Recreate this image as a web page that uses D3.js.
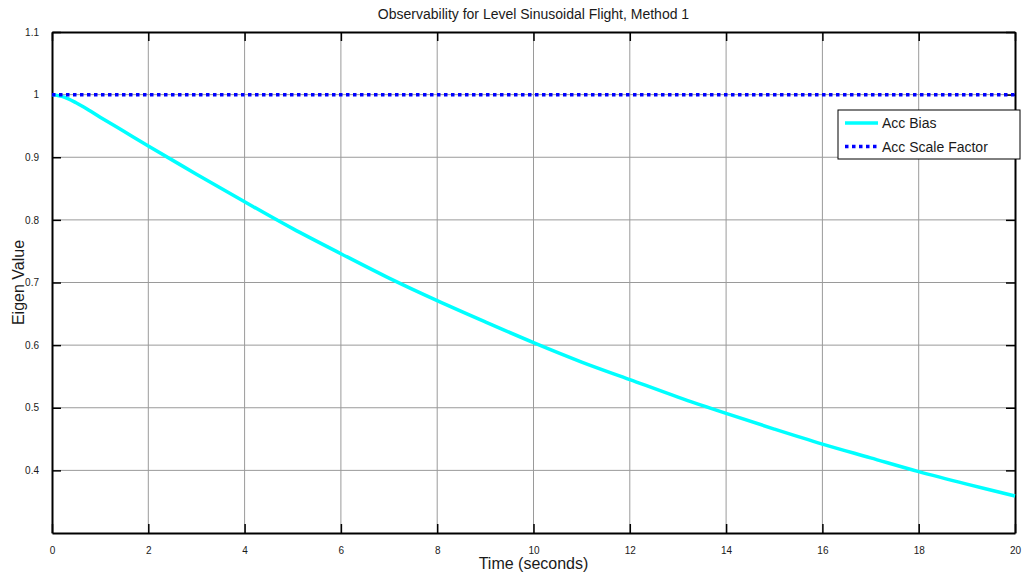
<!DOCTYPE html>
<html>
<head>
<meta charset="utf-8">
<script src="https://cdn.jsdelivr.net/npm/d3@7"></script>
<style>
  body { margin: 0; background: #fff; }
  text { font-family: "Liberation Sans", Arial, sans-serif; fill: #1a1a1a; }
</style>
</head>
<body>
<script>
// values
var timeVals = [0, 0.25, 0.5, 0.75, 1, 1.5, 2, 3, 4, 5, 6, 7, 8, 9, 10, 11, 12, 13, 14, 15, 16, 17, 18, 19, 20]
var biasVals = [1.0, 0.996, 0.987, 0.976, 0.964, 0.941, 0.918, 0.873, 0.829, 0.786, 0.746, 0.707, 0.671, 0.637, 0.604, 0.573, 0.545, 0.517, 0.491, 0.466, 0.442, 0.420, 0.398, 0.378, 0.359]
var scaleTime = [0, 20]
var scaleVals = [1, 1]
var xTicks = [0, 2, 4, 6, 8, 10, 12, 14, 16, 18, 20]
var yTicks = [0.4, 0.5, 0.6, 0.7, 0.8, 0.9, 1, 1.1]
var seriesNames = ["Acc Bias", "Acc Scale Factor"]

var screen = {width: 1028, height: 577}
var margin = {top: 32, right: 13, bottom: 44, left: 52}
var w = screen.width - margin.left - margin.right
var h = screen.height - margin.top - margin.bottom

var svg = d3.select("body").append("svg")
  .attr('width', screen.width)
  .attr('height', screen.height)

var g = svg.append("g")
  .attr('transform', 'translate(' + margin.left + ',' + margin.top + ')')

var x = d3.scaleLinear().domain([0, 20]).range([0, w])
var y = d3.scaleLinear().domain([0.3, 1.1]).range([h, 0])

// grid
g.append("g").selectAll("line").data(xTicks.slice(1, -1)).join("line")
  .attr('x1', d => x(d)).attr('x2', d => x(d))
  .attr('y1', 0).attr('y2', h)
  .attr('stroke', '#9a9a9a').attr('stroke-width', 1)
g.append("g").selectAll("line").data(yTicks.slice(0, -1)).join("line")
  .attr('x1', 0).attr('x2', w)
  .attr('y1', d => y(d)).attr('y2', d => y(d))
  .attr('stroke', '#9a9a9a').attr('stroke-width', 1)

// axes, ticks inward, box on
var fmt = d3.format("")
g.append("g").attr('transform', 'translate(0,' + h + ')')
  .call(d3.axisBottom(x).tickValues(xTicks).tickSizeInner(-9).tickSizeOuter(0).tickPadding(14).tickFormat(fmt))
g.append("g").call(d3.axisTop(x).tickValues(xTicks).tickSizeInner(-9).tickSizeOuter(0).tickFormat(""))
g.append("g")
  .call(d3.axisLeft(y).tickValues(yTicks).tickSizeInner(-9).tickSizeOuter(0).tickPadding(13).tickFormat(fmt))
g.append("g").attr('transform', 'translate(' + w + ',0)')
  .call(d3.axisRight(y).tickValues(yTicks).tickSizeInner(-9).tickSizeOuter(0).tickFormat(""))

g.selectAll(".domain").attr('stroke', '#000').attr('stroke-width', 2)
g.selectAll(".tick line").attr('stroke', '#000').attr('stroke-width', 1.5)
g.selectAll(".tick text").style('font-size', '10px').style('font-family', '"Liberation Sans", Arial, sans-serif').attr('fill', '#1a1a1a')

// lines
var biasData = timeVals.map((t, i) => ({t: t, v: biasVals[i]}))
var scaleData = scaleTime.map((t, i) => ({t: t, v: scaleVals[i]}))
var line = d3.line().x(d => x(d.t)).y(d => y(d.v)).curve(d3.curveCatmullRom)

g.append("path").datum(biasData)
  .attr('d', line)
  .attr('fill', 'none')
  .attr('stroke', '#00ffff')
  .attr('stroke-width', 3.5)

g.append("path").datum(scaleData)
  .attr('d', line)
  .attr('fill', 'none')
  .attr('stroke', '#0000ff')
  .attr('stroke-width', 3.5)
  .attr('stroke-dasharray', '3.5,3.5')

// title and labels
svg.append("text")
  .attr('x', margin.left + w / 2)
  .attr('y', 19)
  .attr('text-anchor', 'middle')
  .style('font-size', '14px')
  .text("Observability for Level Sinusoidal Flight, Method 1")

svg.append("text")
  .attr('x', margin.left + w / 2)
  .attr('y', 569)
  .attr('text-anchor', 'middle')
  .style('font-size', '16px')
  .text("Time (seconds)")

svg.append("text")
  .attr('transform', 'translate(24,' + (margin.top + h / 2) + ') rotate(-90)')
  .attr('text-anchor', 'middle')
  .style('font-size', '16px')
  .text("Eigen Value")

// legend
var legend = svg.append("g").attr('transform', 'translate(838,110)')
legend.append("rect")
  .attr('width', 182).attr('height', 49)
  .attr('fill', '#fff').attr('stroke', '#000').attr('stroke-width', 1)
var legStyles = [{c: '#00ffff', dash: null}, {c: '#0000ff', dash: '3.5,3.5'}]
seriesNames.forEach(function(name, i){
  var yy = 13 + i * 23.5
  legend.append("line")
    .attr('x1', 7).attr('x2', 40).attr('y1', yy).attr('y2', yy)
    .attr('stroke', legStyles[i].c).attr('stroke-width', 3.5)
    .attr('stroke-dasharray', legStyles[i].dash)
  legend.append("text")
    .attr('x', 44).attr('y', yy + 5)
    .style('font-size', '14px')
    .text(name)
})
</script>
</body>
</html>
